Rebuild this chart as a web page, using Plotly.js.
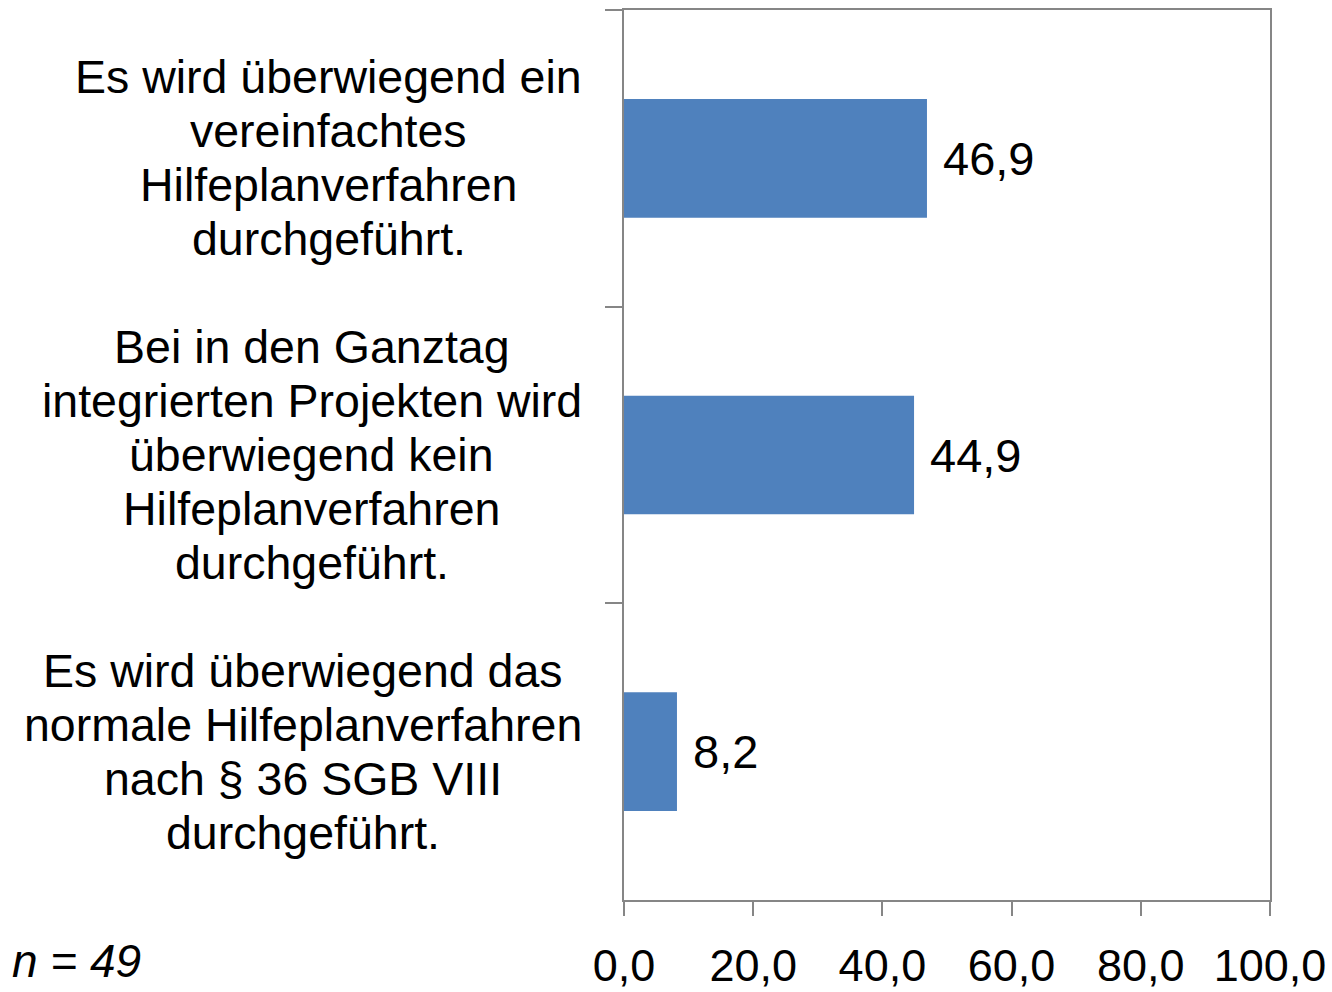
<!DOCTYPE html>
<html>
<head>
<meta charset="utf-8">
<script src="https://cdn.plot.ly/plotly-3.0.1.min.js"></script>
<style>
html,body{margin:0;padding:0;background:#fff;}
#chart{width:1332px;height:992px;}
</style>
</head>
<body>
<div id="chart"></div>
<script>
const categories = [
  "Es wird überwiegend ein<br>vereinfachtes<br>Hilfeplanverfahren<br>durchgeführt.",
  "Bei in den Ganztag<br>integrierten Projekten wird<br>überwiegend kein<br>Hilfeplanverfahren<br>durchgeführt.",
  "Es wird überwiegend das<br>normale Hilfeplanverfahren<br>nach § 36 SGB VIII<br>durchgeführt."
];
const values = [46.9, 44.9, 8.2];
const xTickValues = [0, 20, 40, 60, 80, 100];
const sampleNote = "n = 49";

const FONT = "Liberation Sans, Arial, sans-serif";
const GRAY = "#868686";
const CAT_SIZE = 46.5;
const LINE_H = 54;
const keys = ["c0", "c1", "c2"];

const ctx = document.createElement("canvas").getContext("2d");
ctx.font = CAT_SIZE + "px 'Liberation Sans', Arial, sans-serif";

const trace = {
  type: "bar",
  orientation: "h",
  y: keys,
  x: values,
  width: 0.4,
  marker: {color: "#4F81BD"},
  hoverinfo: "skip"
};

const annotations = [];
keys.forEach((k, i) => {
  const lines = categories[i].split("<br>");
  const maxW = Math.max(...lines.map(l => ctx.measureText(l).width));
  const n = lines.length;
  lines.forEach((line, j) => {
    annotations.push({
      xref: "paper", yref: "y", x: 0, y: k,
      xanchor: "center", yanchor: "middle",
      xshift: -42 - maxW / 2,
      yshift: -(j - (n - 1) / 2) * LINE_H,
      text: line, showarrow: false,
      font: {family: FONT, size: CAT_SIZE, color: "#000"}
    });
  });
  annotations.push({
    xref: "x", yref: "y", x: values[i], y: k,
    xanchor: "left", yanchor: "middle", xshift: 14,
    text: values[i].toFixed(1).replace(".", ","), showarrow: false,
    font: {family: FONT, size: 47, color: "#000"}
  });
});
annotations.push({
  xref: "paper", yref: "paper", x: -0.950, y: -0.069,
  xanchor: "left", yanchor: "middle",
  text: "<i>" + sampleNote + "</i>", showarrow: false,
  font: {family: FONT, size: 46, color: "#000"}
});

const layout = {
  width: 1332, height: 992,
  margin: {l: 624, r: 62, t: 10, b: 92, pad: 0},
  paper_bgcolor: "#fff", plot_bgcolor: "#fff",
  separators: ",.",
  showlegend: false,
  xaxis: {
    range: [0, 100], tickvals: xTickValues, tickformat: ".1f",
    showgrid: false, zeroline: false,
    showline: true, linecolor: GRAY, linewidth: 2, mirror: true,
    ticks: "outside", ticklen: 14, tickwidth: 2, tickcolor: GRAY,
    tickfont: {family: FONT, size: 45, color: "#000"},
    ticklabelstandoff: 11,
    fixedrange: true
  },
  yaxis: {
    type: "category", categoryorder: "array", categoryarray: keys,
    autorange: "reversed",
    showticklabels: false, tickson: "boundaries",
    showgrid: false, zeroline: false,
    showline: true, linecolor: GRAY, linewidth: 2, mirror: true,
    ticks: "outside", ticklen: 17, tickwidth: 2, tickcolor: GRAY,
    fixedrange: true
  },
  annotations: annotations
};

document.fonts.ready.then(() => {
  Plotly.newPlot("chart", [trace], layout, {displayModeBar: false, staticPlot: true});
});
</script>
</body>
</html>
